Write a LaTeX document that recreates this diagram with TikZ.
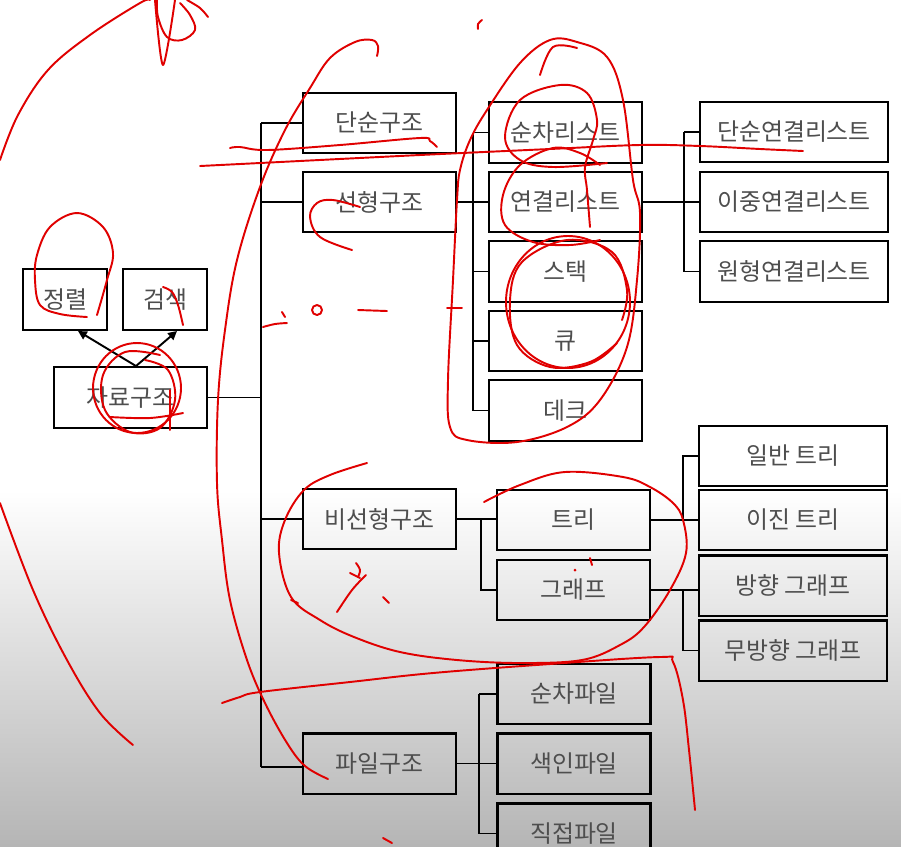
\documentclass[tikz,border=0pt]{standalone}
\usepackage{fontspec}
\setmainfont{Noto Sans CJK KR}
\usetikzlibrary{arrows.meta,calc}
\definecolor{pen}{HTML}{E00000}
\definecolor{txtgray}{HTML}{4E4E4E}
\begin{document}
\begin{tikzpicture}[x=0.02cm,y=-0.02cm,
  box/.style={draw=black,line width=1.4pt,inner sep=0pt,minimum height=1.21cm,
    minimum width=3.06cm,font=\fontsize{13.6}{16}\selectfont,text=txtgray},
  smallbox/.style={box,minimum width=1.68cm},
  widebox/.style={box,minimum width=3.76cm},
  conn/.style={line width=1.1pt,black},
  redline/.style={pen,line width=1.1pt,line cap=round,line join=round}]
\useasboundingbox (0,0) rectangle (901,846);
\fill[white] (0,0) rectangle (901,491);
\shade[top color=white,bottom color=black!29] (0,490) rectangle (901,846);
\clip (0,0) rectangle (901,846);

% left group
\node[smallbox] (jj) at (65,299.5) {정렬};
\node[smallbox] (gs) at (165,299.5) {검색};
\node[box] (jr) at (130.5,397.5) {자료구조};

% second column
\node[box] (dan) at (379.5,123) {단순구조};
\node[box] (sun) at (379.5,202) {선형구조};
\node[box] (bi) at (379.5,519) {비선형구조};
\node[box] (pa) at (379.5,763.5) {파일구조};

% linear children
\node[box] (sc) at (565.5,132.5) {순차리스트};
\node[box] (yg) at (565.5,202) {연결리스트};
\node[box] (st) at (565.5,271.5) {스택};
\node[box] (qu) at (565.5,341) {큐};
\node[box] (dq) at (565.5,410.5) {데크};

% linked list children
\node[widebox] (l1) at (794,132) {단순연결리스트};
\node[widebox] (l2) at (794,202) {이중연결리스트};
\node[widebox] (l3) at (794,271.5) {원형연결리스트};

% nonlinear
\node[box] (tr) at (573.5,520) {트리};
\node[box] (gr) at (573.5,590) {그래프};
\node[widebox] (t1) at (793,456) {일반 트리};
\node[widebox] (t2) at (793,520) {이진 트리};
\node[widebox] (g1) at (793,585.5) {방향 그래프};
\node[widebox] (g2) at (793,650.5) {무방향 그래프};

% files
\node[box] (f1) at (574,694) {순차파일};
\node[box] (f2) at (574,763.5) {색인파일};
\node[box] (f3) at (574,833.5) {직접파일};

% arrows
\draw[conn,-{Triangle[length=5pt,width=5pt]}] ($(jr.north)+(5.5,0)$) -- ($(jj.south)+(13,0)$);
\draw[conn,-{Triangle[length=5pt,width=5pt]}] ($(jr.north)+(5.5,0)$) -- ($(gs.south)+(12,0)$);

% main bus
\coordinate (b1) at (261,123);
\coordinate (b2) at (261,767);
\draw[conn] (b1) -- (b2);
\draw[conn] (jr.east) -- (jr.east -| b1);
\draw[conn] (b1) -- (dan.west);
\draw[conn] (sun.west -| b1) -- (sun.west);
\draw[conn] (bi.west -| b1) -- (bi.west);
\draw[conn] (b2) -- (b2 -| pa.west);

% linear bus
\coordinate (c1) at (473,0);
\draw[conn] (sc.west -| c1) -- (dq.west -| c1);
\draw[conn] (sun.east) -- (yg.west);
\foreach \n in {sc,st,qu,dq} \draw[conn] (\n.west -| c1) -- (\n.west);

% linked list bus
\coordinate (c2) at (684,0);
\draw[conn] (l1.west -| c2) -- (l3.west -| c2);
\draw[conn] (yg.east) -- (l2.west);
\foreach \n in {l1,l3} \draw[conn] (\n.west -| c2) -- (\n.west);

% nonlinear bus
\coordinate (c3) at (481,0);
\draw[conn] (bi.east) -- (bi.east -| tr.west);
\draw[conn] (bi.east -| c3) -- (gr.west -| c3) -- (gr.west);

% tree bus
\coordinate (c4) at (683,0);
\draw[conn] (tr.east) -- (tr.east -| t2.west);
\draw[conn] (t1.west) -- (t1.west -| c4) -- (tr.east -| c4);

% graph bus
\draw[conn] (gr.east) -- (gr.east -| g1.west);
\draw[conn] (gr.east -| c4) -- (g2.west -| c4) -- (g2.west);

% file bus
\coordinate (c5) at (479,0);
\draw[conn] (pa.east) -- (f2.west);
\draw[conn] (f1.west -| c5) -- (f3.west -| c5);
\foreach \n in {f1,f3} \draw[conn] (\n.west -| c5) -- (\n.west);

% ---- red pen annotations ----
\draw[redline] plot[smooth,tension=0.6] coordinates {(0,160) (18,115) (48,70) (90,35) (140,3) (150,0)};
\draw[redline] plot[smooth,tension=0.5] coordinates {(155,0) (163,65) (175,0)};
\draw[redline] plot[smooth,tension=0.6] coordinates {(157,0) (158,17) (167,37) (182,40) (195,30) (190,15) (180,3)};
\draw[redline] plot[smooth,tension=0.6] coordinates {(187,0) (200,8) (208,17)};
\draw[redline] plot[smooth,tension=0.6] coordinates {(377,56) (378,46) (372,40) (355,42) (330,58) (310,88) (285,130) (260,187) (237,260) (225,330) (218,400) (217,483) (222,540) (230,600) (247,660) (265,703) (287,743) (305,766) (328,779)};
\draw[redline] plot[smooth,tension=0.6] coordinates {(0,503) (33,590) (67,660) (100,713) (133,745)};
\draw[redline] plot[smooth,tension=0.6] coordinates {(230,148) (240,147) (267,150) (340,145) (420,138) (430,141) (437,147)};
\draw[redline] plot[smooth,tension=0.6] coordinates {(200,166) (260,163) (420,155) (550,149) (640,145) (700,146) (760,149) (803,151)};
\draw[redline] plot[smooth,tension=0.6] coordinates {(360,207) (333,200) (317,203) (310,217) (320,237) (352,250)};
\draw[redline] plot[smooth,tension=0.6] coordinates {(87,317) (60,314) (40,305) (35,280) (37,255) (50,227) (77,213) (103,227) (113,253) (107,280) (97,315)};
\draw[redline] plot[smooth,tension=0.6] coordinates {(163,287) (172,292) (178,305) (183,325)};
\draw[redline] (137,388) ellipse [x radius=44,y radius=45];
\draw[redline] plot[smooth,tension=0.6] coordinates {(160,355) (125,352) (103,375) (105,410) (130,432) (160,428) (175,400) (168,370) (145,360)};
\draw[redline] plot[smooth,tension=0.6] coordinates {(110,417) (150,418) (183,413)};
\draw[redline] (170,390) -- (170,430);
% dashes
\draw[redline] plot[smooth,tension=0.6] coordinates {(263,327) (275,324) (287,323)};
\draw[redline] (282,312) -- (285,317);
\draw[redline] (317,310) circle [radius=5];
\draw[redline] (358,310) -- (387,311);
\draw[redline] (447,308) -- (462,308);
% big loop column 3
\draw[redline] plot[smooth cycle,tension=0.6] coordinates {(460,170) (470,140) (487,110) (520,63) (550,40) (577,42) (607,57) (623,100) (633,180) (640,213) (637,280) (627,347) (600,400) (567,427) (517,442) (467,440) (450,427) (448,380) (453,280) (457,200)};
\draw[redline] plot[smooth,tension=0.6] coordinates {(540,75) (553,47) (577,48)};
\draw[redline] plot[smooth,tension=0.6] coordinates {(482,20) (478,24) (478,29)};
\draw[redline] plot[smooth,tension=0.6] coordinates {(590,227) (587,190) (585,167) (593,140) (597,120) (587,93) (560,85) (520,100) (505,137) (520,160) (553,167) (607,163)};
\draw[redline] plot[smooth,tension=0.6] coordinates {(600,165) (580,153) (553,148) (520,165) (503,195) (505,225) (533,242) (570,245) (600,240)};
\draw[redline] (568,302) ellipse [x radius=62,y radius=66];
\draw[redline] plot[smooth,tension=0.6] coordinates {(617,343) (590,362) (550,367) (517,345) (510,300) (522,262) (567,240) (612,252) (627,290) (622,320)};
% nonlinear loop
\draw[redline] plot[smooth,tension=0.6] coordinates {(367,463) (330,475) (304,490) (285,520) (279,553) (291,597) (320,620) (354,637) (400,652) (457,660) (520,663) (582,660) (620,645) (644,627) (670,590) (686,553) (683,520) (673,503) (650,487) (623,477) (565,472) (520,485) (484,502)};
\draw[redline] plot[smooth,tension=0.6] coordinates {(356,563) (360,570) (358,577)};
\draw[redline] plot[smooth,tension=0.6] coordinates {(337,612) (352,590) (366,575)};
\draw[redline] (350,573) -- (360,578);
\draw[redline] (383,597) -- (389,603);
\draw[redline] (291,600) -- (298,603);
\fill[pen] (575,570) circle [radius=1.5];
\draw[redline] (590,558) -- (592,565);
% bottom line
\draw[redline] plot[smooth,tension=0.6] coordinates {(222,703) (240,697) (260,692) (350,682) (433,673) (550,664) (660,657) (673,662) (683,700) (689,750) (695,810)};
\draw[redline] (383,838) -- (392,843);
\end{tikzpicture}
\end{document}
